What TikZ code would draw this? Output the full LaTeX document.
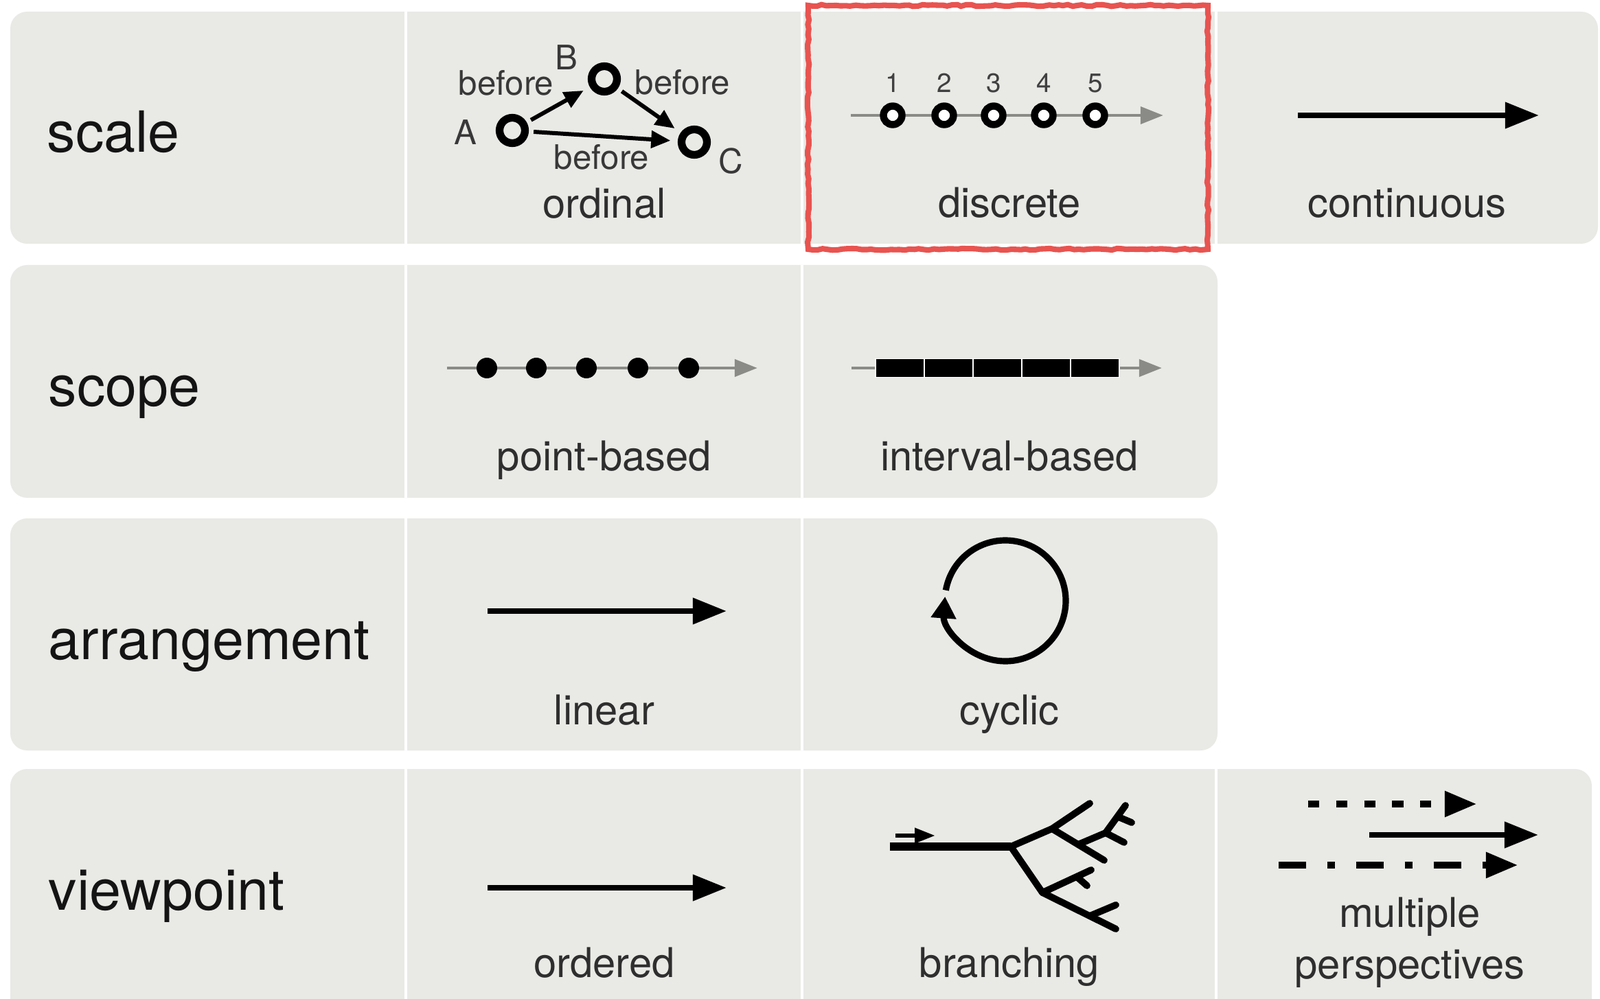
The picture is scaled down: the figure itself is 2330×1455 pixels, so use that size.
\documentclass[tikz,border=0pt]{standalone}
\usepackage{fontspec}
\setmainfont{TeX Gyre Heros}
\usetikzlibrary{arrows.meta,decorations.pathmorphing}
\definecolor{cellgray}{RGB}{233,233,229}
\definecolor{linegray}{RGB}{138,138,134}
\definecolor{hired}{RGB}{232,84,80}
\begin{document}
\begin{tikzpicture}[x=0.01cm,y=-0.01cm,
  rowlabel/.style={anchor=base west,font=\fontsize{23.5}{26}\selectfont,text=black!92,inner sep=0},
  celllabel/.style={anchor=base,font=\fontsize{17}{20}\selectfont,text=black!82,inner sep=0},
  smalllabel/.style={font=\fontsize{14}{16}\selectfont,text=black!78,inner sep=0},
  numlabel/.style={anchor=base,font=\fontsize{11}{13}\selectfont,text=black!75,inner sep=0},
  ring/.style={circle,draw=black,line width=3.2pt,minimum size=0.37cm,inner sep=0},
  dring/.style={circle,draw=black,line width=2.95pt,fill=white,minimum size=0.27cm,inner sep=0},
  blackdot/.style={circle,fill=black,minimum size=0.30cm,inner sep=0},
  ordarrow/.style={line width=1.7pt,-{Triangle[length=8pt,width=7pt]},shorten <=2pt,shorten >=3pt},
  grayaxis/.style={draw=linegray,line width=1.4pt,-{Triangle[length=9.4pt,width=7pt]}},
  bigarrow/.style={line width=2.3pt,-{Triangle[length=14pt,width=10.5pt]}},
  sepline/.style={draw=white,line width=0.9pt},
  barbox/.style={rectangle,fill=black,draw=white,line width=0.5pt,minimum width=0.71cm,minimum height=0.27cm,inner sep=0},
  twig/.style={line width=2.8pt,line cap=round,line join=round},
]
\clip (0,0) rectangle (2330,1455);
\fill[white] (0,0) rectangle (2330,1455);

% rows
\fill[cellgray,rounded corners=7pt] (15,17) rectangle (2327,355);
\fill[cellgray,rounded corners=7pt] (15,386) rectangle (1773,725);
\fill[cellgray,rounded corners=7pt] (15,755) rectangle (1773,1093);
\fill[cellgray,rounded corners=7pt] (15,1120) rectangle (2318,1500);

% separators
\foreach \x in {591,1168,1771} \draw[sepline] (\x,17) -- (\x,355);
\foreach \x in {591,1168} \draw[sepline] (\x,386) -- (\x,725);
\foreach \x in {591,1168} \draw[sepline] (\x,755) -- (\x,1093);
\foreach \x in {591,1168,1771} \draw[sepline] (\x,1120) -- (\x,1455);

% row labels
\node[rowlabel] (rscale) at (68,222) {scale};
\node[rowlabel] (rscope) at (70,591) {scope};
\node[rowlabel] (rarr) at (70,960) {arrangement};
\node[rowlabel] (rview) at (70,1325) {viewpoint};

% ordinal
\node[ring] (A) at (746,190) {};
\node[ring] (B) at (880,115) {};
\node[ring] (C) at (1011,207) {};
\draw[ordarrow] (A) -- (B);
\draw[ordarrow] (A) -- (C);
\draw[ordarrow] (B) -- (C);
\node[smalllabel] (lA) at (678,193) {A};
\node[smalllabel] (lB) at (825,84) {B};
\node[smalllabel] (lC) at (1064,235) {C};
\node[smalllabel] (b1) at (737,121) {before};
\node[smalllabel] (b2) at (994,120) {before};
\node[smalllabel] (b3) at (876,229) {before};
\node[celllabel] (tord) at (880,318) {ordinal};

% discrete
\coordinate (d0) at (1239,168);
\coordinate (d1) at (1694,168);
\draw[grayaxis] (d0) -- (d1);
\foreach \i/\x in {1/1300,2/1375,3/1447,4/1520,5/1595} {
  \node[dring] (dc\i) at (\x,168) {};
  \node[numlabel] (dn\i) at (\x,135) {\i};
}
\node[celllabel] (tdisc) at (1470,317) {discrete};
\draw[hired,line width=2.3pt,decorate,decoration={random steps,segment length=2pt,amplitude=0.35pt}] (1177,8) rectangle (1759,363);

% continuous
\coordinate (c0) at (1890,168);
\coordinate (c1) at (2241,168);
\draw[bigarrow] (c0) -- (c1);
\node[celllabel] (tcont) at (2049,317) {continuous};

% point-based
\coordinate (p0) at (651,536);
\coordinate (p1) at (1103,536);
\draw[grayaxis] (p0) -- (p1);
\foreach \i/\x in {1/709,2/781,3/854,4/929,5/1003} \node[blackdot] (pd\i) at (\x,536) {};
\node[celllabel] (tpoint) at (880,685) {point-based};

% interval-based
\coordinate (i0) at (1240,536);
\coordinate (i1) at (1692,536);
\draw[grayaxis] (i0) -- (i1);
\foreach \i/\x in {1/1310.5,2/1381.5,3/1452.5,4/1523.5,5/1594.5} \node[barbox] (ib\i) at (\x,536) {};
\node[celllabel] (tint) at (1470,685) {interval-based};

% linear
\coordinate (l0) at (710,890);
\coordinate (l1) at (1058,890);
\draw[bigarrow] (l0) -- (l1);
\node[celllabel] (tlin) at (880,1055) {linear};

% cyclic
\coordinate (cy) at (1464,875);
\draw[line width=2.6pt,-{Triangle[length=9pt,width=10pt]}] (cy) ++(-170:88) arc[start angle=-170,end angle=184,radius=88];
\node[celllabel] (tcyc) at (1470,1055) {cyclic};

% ordered
\coordinate (o0) at (710,1293);
\coordinate (o1) at (1058,1293);
\draw[bigarrow] (o0) -- (o1);
\node[celllabel] (tordd) at (880,1423) {ordered};

% branching
\coordinate (t0) at (1296,1233);
\coordinate (J0) at (1472,1233);
\coordinate (U1) at (1532,1207);
\coordinate (U1a) at (1587,1170);
\coordinate (U2) at (1608,1253);
\coordinate (P) at (1570,1230);
\coordinate (P2) at (1610,1213);
\coordinate (Q) at (1639,1173);
\coordinate (T1) at (1637,1227);
\coordinate (T2a) at (1629,1190);
\coordinate (T2b) at (1648,1198);
\coordinate (L1) at (1518,1300);
\coordinate (L2) at (1589,1267);
\coordinate (L3) at (1568,1277);
\coordinate (L4) at (1583,1290);
\coordinate (L5) at (1625,1353);
\coordinate (L6) at (1587,1334);
\coordinate (L7) at (1625,1318);
\coordinate (sa0) at (1304,1217);
\coordinate (sa1) at (1362,1217);
\draw[line width=3.6pt] (t0) -- (J0);
\draw[twig] (J0) -- (U1) -- (U1a);
\draw[twig] (U1) -- (U2);
\draw[twig] (P) -- (P2) -- (Q);
\draw[twig] (P2) -- (T1);
\draw[twig] (T2a) -- (T2b);
\draw[twig] (J0) -- (L1) -- (L2);
\draw[twig] (L3) -- (L4);
\draw[twig] (L1) -- (L5);
\draw[twig] (L6) -- (L7);
\draw[line width=1.8pt,-{Triangle[length=8.5pt,width=6pt]}] (sa0) -- (sa1);
\node[celllabel] (tbr) at (1470,1423) {branching};

% multiple perspectives
\coordinate (m0) at (1905,1171);
\coordinate (m1) at (2151,1171);
\coordinate (n0) at (1994,1216);
\coordinate (n1) at (2240,1216);
\coordinate (k0) at (1862,1260);
\coordinate (k1) at (2211,1260);
\draw[line width=3.1pt,dash pattern=on 4.6pt off 7pt,-{Triangle[length=13.4pt,width=10pt]}] (m0) -- (m1);
\draw[line width=2.3pt,-{Triangle[length=14pt,width=10.5pt]}] (n0) -- (n1);
\draw[line width=3.1pt,dash pattern=on 11.4pt off 8.8pt on 3.1pt off 8.8pt,-{Triangle[length=13.4pt,width=10pt]}] (k0) -- (k1);
\node[celllabel] (tmul) at (2053,1350) {multiple};
\node[celllabel] (tper) at (2053,1425) {perspectives};
\end{tikzpicture}
\end{document}
